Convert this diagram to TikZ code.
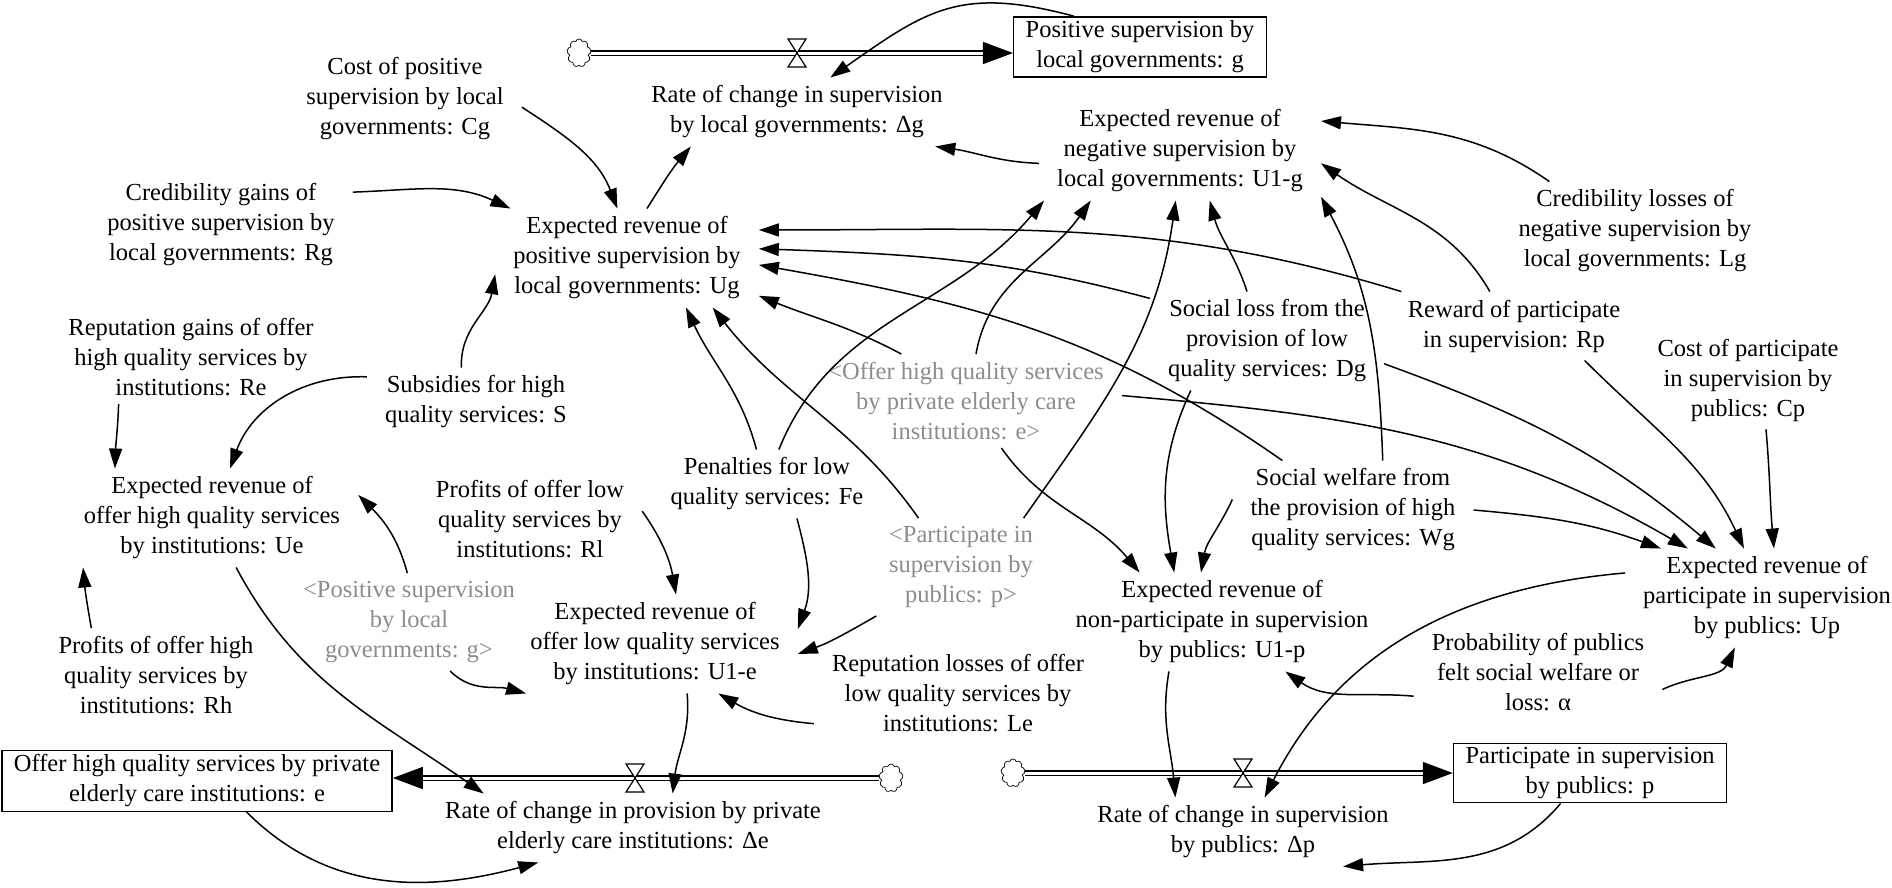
\documentclass[tikz,border=0pt]{standalone}
\usepackage{fontspec}
\setmainfont{Liberation Serif}
\usetikzlibrary{arrows.meta,shapes.symbols}
\newcommand{\vfont}{\fontsize{24.5}{30}\selectfont}
\begin{document}
\begin{tikzpicture}[x=1pt,y=1pt,
  var/.style={align=center,font=\vfont,inner xsep=18pt,inner ysep=8pt},
  shadow/.style={var,text=black!45},
  stock/.style={draw,line width=1.4pt,align=center,font=\vfont,inner xsep=12pt,inner ysep=4pt},
  sink/.style={cloud,cloud puffs=9,draw,line width=0.7pt,minimum width=24pt,minimum height=28pt,aspect=0.9,inner sep=0pt},
  link/.style={line width=1.5pt,-{Triangle[length=20pt,width=13pt]}},
  pipe/.style={double,double distance=3pt,line width=1.6pt,-{Triangle[length=30pt,width=22pt]}}]
\useasboundingbox (0,-887) rectangle (1892,0);
\node[sink] (cG) at (579,-53) {}; \coordinate (vG) at (797,-53);
\node[stock] (gS) at (1140,-47) {Positive supervision by\\local governments: g};
\node[var] (dg) at (797,-112) {Rate of change in supervision\\by local governments: Δg};
\node[var] (Cg) at (405,-99) {Cost of positive\\supervision by local\\governments: Cg};
\node[var] (Rg) at (221,-225) {Credibility gains of\\positive supervision by\\local governments: Rg};
\node[var] (Ug) at (627,-258) {Expected revenue of\\positive supervision by\\local governments: Ug};
\node[var] (U1g) at (1180,-151) {Expected revenue of\\negative supervision by\\local governments: U1-g};
\node[var] (Lg) at (1635,-231) {Credibility losses of\\negative supervision by\\local governments: Lg};
\node[var] (Re) at (191,-357) {Reputation gains of offer\\high quality services by\\institutions: Re};
\node[var] (S) at (476,-402) {Subsidies for high\\quality services: S};
\node[var] (Dg) at (1267,-341) {Social loss from the\\provision of low\\quality services: Dg};
\node[var] (Rp) at (1514,-326) {Reward of participate\\in supervision: Rp};
\node[var] (Cp) at (1748,-380) {Cost of participate\\in supervision by\\publics: Cp};
\node[shadow] (eG) at (966,-401) {<Offer high quality services\\by private elderly care\\institutions: e>};
\node[var] (Ue) at (212,-518) {Expected revenue of\\offer high quality services\\by institutions: Ue};
\node[var] (Rl) at (530,-519) {Profits of offer low\\quality services by\\institutions: Rl};
\node[var] (Fe) at (767,-484) {Penalties for low\\quality services: Fe};
\node[shadow] (pG) at (961,-567) {<Participate in\\supervision by\\publics: p>};
\node[var] (Wg) at (1353,-510) {Social welfare from\\the provision of high\\quality services: Wg};
\node[var] (U1p) at (1222,-622) {Expected revenue of\\non-participate in supervision\\by publics: U1-p};
\node[var] (Up) at (1767,-598) {Expected revenue of\\participate in supervision\\by publics: Up};
\node[shadow] (gG) at (409,-622) {<Positive supervision\\by local\\governments: g>};
\node[var] (U1e) at (655,-644) {Expected revenue of\\offer low quality services\\by institutions: U1-e};
\node[var] (Rh) at (156,-675) {Profits of offer high\\quality services by\\institutions: Rh};
\node[var] (Le) at (958,-693) {Reputation losses of offer\\low quality services by\\institutions: Le};
\node[var] (al) at (1538,-672) {Probability of publics\\felt social welfare or\\loss: α};
\node[stock] (eS) at (197,-781) {Offer high quality services by private\\elderly care institutions: e};
\node[sink] (cE) at (891,-778) {}; \coordinate (vE) at (635,-778);
\node[var] (De) at (633,-828) {Rate of change in provision by private\\elderly care institutions: Δe};
\node[sink] (cP) at (1013,-773) {}; \coordinate (vP) at (1243,-773);
\node[stock] (pS) at (1590,-773) {Participate in supervision\\by publics: p};
\node[var] (Dp) at (1243,-832) {Rate of change in supervision\\by publics: Δp};
\draw[pipe] (cG.east) -- (cG.east -| gS.west);
\draw[pipe] (cE.west) -- (cE.west -| eS.east);
\draw[pipe] (cP.east) -- (cP.east -| pS.west);
\foreach \v in {vG,vE,vP} \draw[line width=1.2pt,fill=white] (\v) ++(-9,14) -- ++(18,0) -- ++(-18,-28) -- ++(18,0) -- cycle;
\draw[link] (gS.155) to[out=165,in=35,looseness=1.2] (dg.46);
\draw[link] (Cg.-4) to[out=-33,in=111] (Ug.101);
\draw[link] (Ug.68) to[out=58,in=-130] (dg.-162);
\draw[link] (U1g.-175) to[out=178,in=-8] (dg.-14);
\draw[link] (Rg.14) to[out=2,in=155] (Ug.157);
\draw[link] (S.113) to[out=92,in=-100] (Ug.-173);
\draw[link] (S.167) to[out=178,in=70] (Ue.70);
\draw[link] (Re.-147) to[out=-92,in=88] (Ue.153);
\draw[link] (Rh.144) to[out=100,in=-85] (Ue.-159);
\draw[link] (gG.92) to[out=105,in=-45] (Ue.9);
\draw[link] (gG.-50) to[out=-45,in=165] (U1e.-159);
\draw[link] (Rl.4) to[out=-55,in=100] (U1e.67);
\draw[link] (Fe.-49) to[out=-75,in=70] (U1e.6);
\draw[link] (pG.-150) to[out=-150,in=20] (U1e.-4);
\draw[link] (Le.-168) to[out=175,in=-30] (U1e.-38);
\draw[link] (U1e.-57) to[out=-85,in=83] (De.41);
\draw[link] (Ue.-64) to[out=-62,in=145] (De.167);
\draw[link] (eS.-32) to[out=-45,in=-165] (De.-160);
\draw[link] (pS.-134) to[out=-130,in=5] (Dp.-19);
\draw[link] (U1p.-137) to[out=-100,in=95] (Dp.153);
\draw[link] (Up.170) to[out=-175,in=63] (Dp.58);
\draw[link] (al.-169) to[out=175,in=-35] (U1p.-38);
\draw[link] (al.-8) to[out=25,in=-115] (Up.-123);
\draw[link] (Wg.175) to[out=-115,in=80] (U1p.113);
\draw[link] (Dg.-147) to[out=-115,in=100] (U1p.134);
\draw[link] (eG.-53) to[out=-55,in=130] (U1p.149);
\draw[link] (eG.144) to[out=152,in=-22] (Ug.-16);
\draw[link] (eG.78) to[out=80,in=-125] (U1g.-151);
\draw[link] (eG.2) to[out=-5,in=150] (Up.148);
\draw[link] (Fe.107) to[out=105,in=-65] (Ug.-40);
\draw[link] (Fe.71) to[out=68,in=-130] (U1g.-160);
\draw[link] (pG.131) to[out=125,in=-52] (Ug.-30);
\draw[link] (pG.38) to[out=55,in=-98] (U1g.-95);
\draw[link] (Rp.163) to[out=163,in=0] (Ug.12);
\draw[link] (Dg.160) to[out=165,in=-2] (Ug.4);
\draw[link] (Wg.145) to[out=145,in=-10] (Ug.-3);
\draw[link] (Lg.150) to[out=145,in=-5] (U1g.12);
\draw[link] (Rp.125) to[out=120,in=-35] (U1g.-5);
\draw[link] (Dg.112) to[out=108,in=-75] (U1g.-59);
\draw[link] (Wg.59) to[out=92,in=-62] (U1g.-18);
\draw[link] (Dg.-11) to[out=-20,in=140] (Up.136);
\draw[link] (Rp.-26) to[out=-45,in=115] (Up.115);
\draw[link] (Cp.-70) to[out=-85,in=95] (Up.82);
\draw[link] (Wg.0) to[out=-5,in=160] (Up.155);
\end{tikzpicture}
\end{document}
